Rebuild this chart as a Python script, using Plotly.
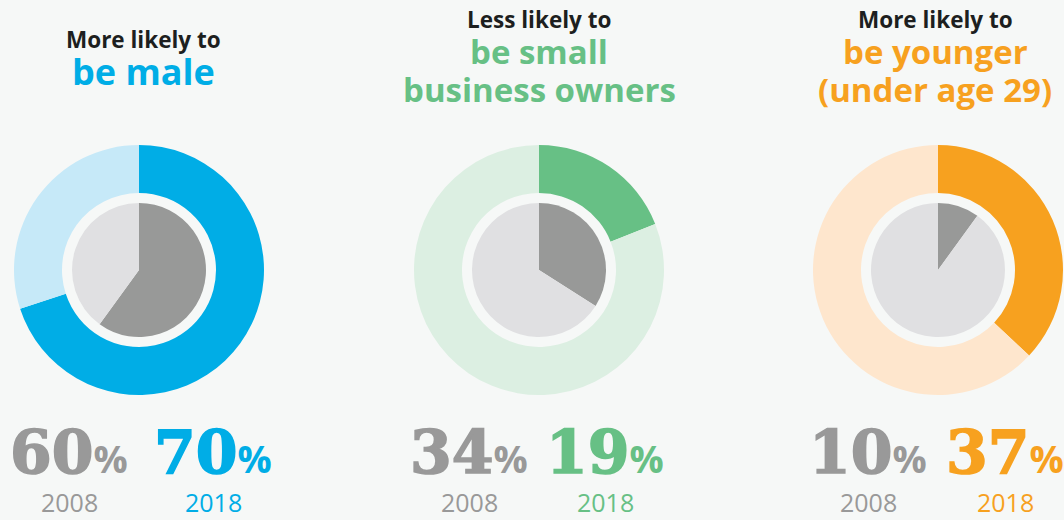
import plotly.graph_objects as go

headers = ["More likely to", "Less likely to", "More likely to"]
highlights = [["be male"], ["be small", "business owners"], ["be younger", "(under age 29)"]]
pct_2008 = [60, 34, 10]
pct_2018 = [70, 19, 37]
years = ["2008", "2018"]

main_colors = ["#00ade6", "#67c085", "#f7a11f"]
pale_colors = ["#c6e9f8", "#dcefe2", "#fee6cd"]
dark_gray = "#989998"
pale_gray = "#e0e0e2"
bg = "#f6f8f7"

W, H = 1064, 520
centers_x = [139, 539, 938]
center_y = 270
r_outer = 125
r_gap = 77
r_inner = 67


def dom(cx, cy, r):
    return dict(x=[(cx - r) / W, (cx + r) / W],
                y=[(H - cy - r) / H, (H - cy + r) / H])


fig = go.Figure()
for i in range(3):
    cx = centers_x[i]
    fig.add_trace(go.Pie(
        values=[pct_2018[i], 100 - pct_2018[i]],
        marker=dict(colors=[main_colors[i], pale_colors[i]], line=dict(width=0)),
        hole=r_gap / r_outer, sort=False, direction="clockwise",
        textinfo="none", hoverinfo="skip", showlegend=False,
        domain=dom(cx, center_y, r_outer),
    ))
    fig.add_trace(go.Pie(
        values=[pct_2008[i], 100 - pct_2008[i]],
        marker=dict(colors=[dark_gray, pale_gray], line=dict(width=0)),
        sort=False, direction="clockwise",
        textinfo="none", hoverinfo="skip", showlegend=False,
        domain=dom(cx, center_y, r_inner),
    ))

annotations = []
title_x = [143, 539, 935]
head_y = [40, 20, 20]
hl_size = [36, 33, 33]
for i in range(3):
    annotations.append(dict(
        x=title_x[i] / W, y=1 - head_y[i] / H, text=headers[i], showarrow=False,
        xref="paper", yref="paper", xanchor="center", yanchor="middle",
        font=dict(family="Open Sans", size=22.5, color="#1d1f20", weight=700),
    ))
    for j, line in enumerate(highlights[i]):
        ly = head_y[i] + 32 + j * 37
        annotations.append(dict(
            x=title_x[i] / W, y=1 - ly / H, text=line, showarrow=False,
            xref="paper", yref="paper", xanchor="center", yanchor="middle",
            font=dict(family="Open Sans", size=hl_size[i], color=main_colors[i], weight=700),
        ))

num_x = [[69, 213], [469, 605], [868, 1005]]
for i in range(3):
    vals = [pct_2008[i], pct_2018[i]]
    cols = ["#999999", main_colors[i]]
    for k in range(2):
        annotations.append(dict(
            x=num_x[i][k] / W, y=1 - 452 / H,
            text=(f"<span style='stroke:{cols[k]};stroke-width:1.6px'>{vals[k]}</span>"
                  "<span style='font-family:Open Sans;font-size:38px'>%</span>"),
            showarrow=False, xref="paper", yref="paper",
            xanchor="center", yanchor="middle",
            font=dict(family="DejaVu Serif", size=60, color=cols[k], weight=700),
        ))
        annotations.append(dict(
            x=num_x[i][k] / W, y=1 - 502 / H, text=years[k],
            showarrow=False, xref="paper", yref="paper",
            xanchor="center", yanchor="middle",
            font=dict(family="Open Sans", size=25, color=cols[k]),
        ))

fig.update_layout(
    width=W, height=H,
    margin=dict(l=0, r=0, t=0, b=0),
    paper_bgcolor=bg, plot_bgcolor=bg,
    annotations=annotations,
)

fig.write_html("out.html", config={"displayModeBar": False},
               post_script="document.body.style.margin='0';")
